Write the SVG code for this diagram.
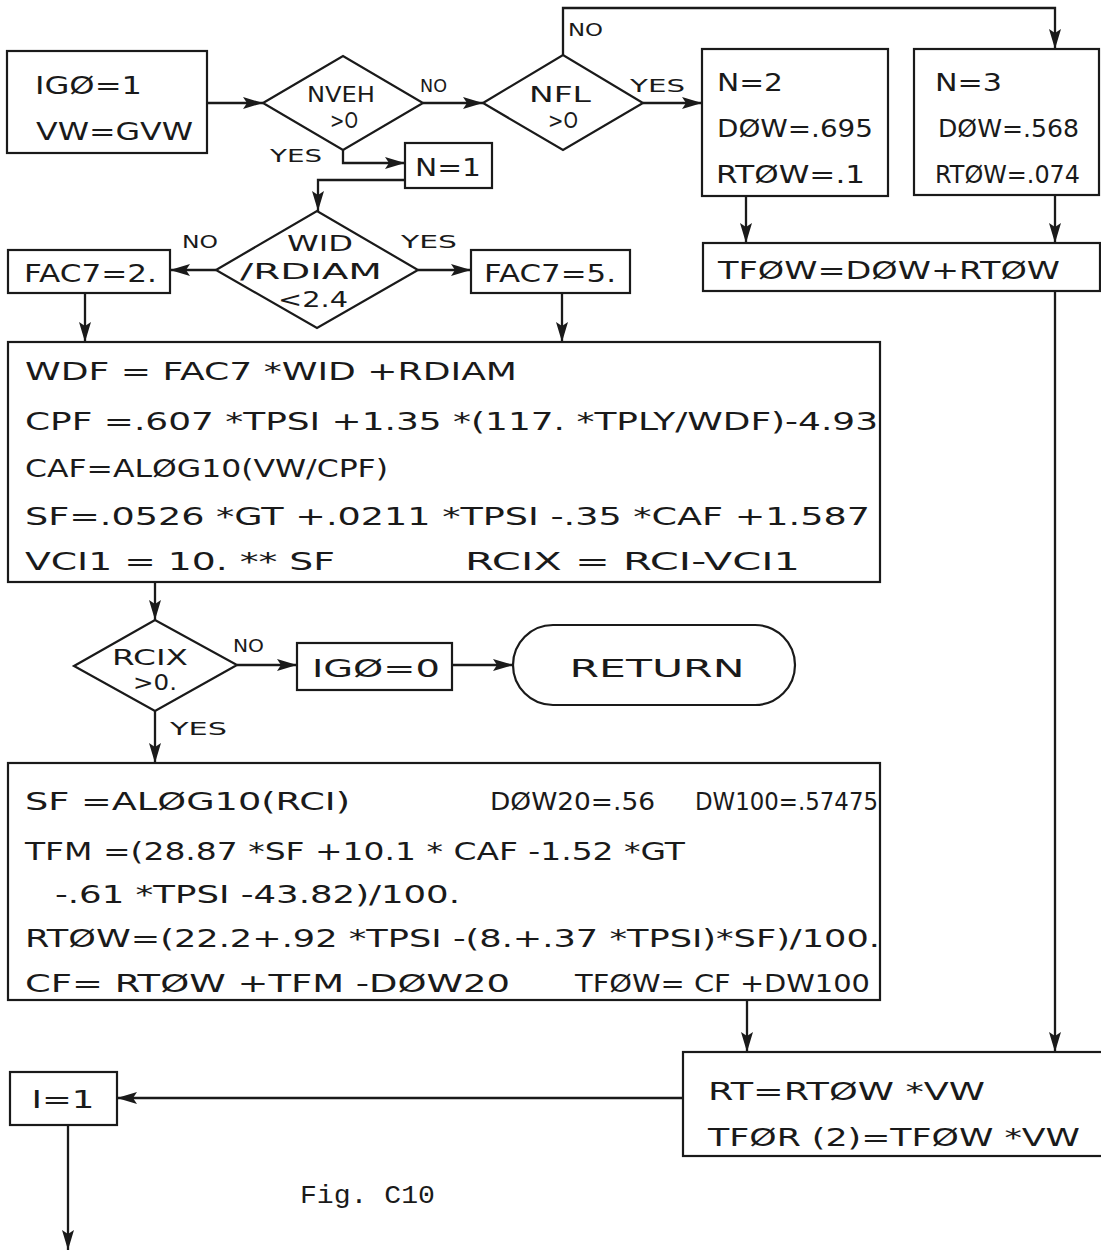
<svg xmlns="http://www.w3.org/2000/svg" width="1101" height="1258" viewBox="0 0 1101 1258">
<style>
.box{fill:none;stroke:#1a1a1a;stroke-width:2.2}
.t{font-family:"DejaVu Sans","Liberation Sans",sans-serif;fill:#1a1a1a;font-size:25px}
.s{font-family:"DejaVu Sans","Liberation Sans",sans-serif;fill:#1a1a1a;font-size:21px}
.l{font-family:"DejaVu Sans","Liberation Sans",sans-serif;fill:#1a1a1a;font-size:18px}
.m{text-anchor:middle}
.c{fill:none;stroke:#1a1a1a;stroke-width:2.3}
</style>
<defs>
<marker id="ah" markerUnits="userSpaceOnUse" markerWidth="22" markerHeight="14" refX="20" refY="6" orient="auto">
<path d="M0,0 L20,6 L0,12 L4,6 z" fill="#1a1a1a"/>
</marker>
</defs>
<rect width="1101" height="1258" fill="#fff"/>

<g id="connectors">
<path class="c" d="M207,103 H263" marker-end="url(#ah)"/>
<path class="c" d="M423,103 H483" marker-end="url(#ah)"/>
<path class="c" d="M343,150 V163 H405" marker-end="url(#ah)"/>
<path class="c" d="M405,180 H318 V211" marker-end="url(#ah)"/>
<path class="c" d="M643,103 H702" marker-end="url(#ah)"/>
<path class="c" d="M563,55 V8 H1055 V49" marker-end="url(#ah)"/>
<path class="c" d="M746,196 V243" marker-end="url(#ah)"/>
<path class="c" d="M1055,195 V243" marker-end="url(#ah)"/>
<path class="c" d="M1055,291 V1052" marker-end="url(#ah)"/>
<path class="c" d="M216,270 H170" marker-end="url(#ah)"/>
<path class="c" d="M418,270 H471" marker-end="url(#ah)"/>
<path class="c" d="M85,293 V342" marker-end="url(#ah)"/>
<path class="c" d="M562,293 V342" marker-end="url(#ah)"/>
<path class="c" d="M155,582 V620" marker-end="url(#ah)"/>
<path class="c" d="M237,665 H297" marker-end="url(#ah)"/>
<path class="c" d="M452,665 H513" marker-end="url(#ah)"/>
<path class="c" d="M155,711 V763" marker-end="url(#ah)"/>
<path class="c" d="M747,1000 V1052" marker-end="url(#ah)"/>
<path class="c" d="M683,1098 H117" marker-end="url(#ah)"/>
<path class="c" d="M68,1125 V1250" marker-end="url(#ah)"/>
<text class="l" x="420" y="92" textLength="27" lengthAdjust="spacingAndGlyphs">NO</text>
<text class="l" x="270" y="162" textLength="52" lengthAdjust="spacingAndGlyphs">YES</text>
<text class="l" x="568" y="36" textLength="35" lengthAdjust="spacingAndGlyphs">NO</text>
<text class="l" x="630" y="92" textLength="55" lengthAdjust="spacingAndGlyphs">YES</text>
<text class="l" x="182" y="248" textLength="36" lengthAdjust="spacingAndGlyphs">NO</text>
<text class="l" x="401" y="248" textLength="56" lengthAdjust="spacingAndGlyphs">YES</text>
<text class="l" x="233" y="652" textLength="31" lengthAdjust="spacingAndGlyphs">NO</text>
<text class="l" x="170" y="735" textLength="57" lengthAdjust="spacingAndGlyphs">YES</text>
</g>

<g id="n_start">
<rect class="box" x="7" y="51" width="200" height="102"/>
<text class="t" x="35" y="94" textLength="107" lengthAdjust="spacingAndGlyphs">IGØ=1</text>
<text class="t" x="36" y="140" textLength="157" lengthAdjust="spacingAndGlyphs">VW=GVW</text>
</g>

<g id="n_nveh">
<polygon class="box" points="263,103 343,56 423,103 343,150"/>
<text class="s m" x="341" y="102" textLength="68" lengthAdjust="spacingAndGlyphs">NVEH</text>
<text class="s m" x="344" y="128" textLength="28" lengthAdjust="spacingAndGlyphs">&gt;O</text>
</g>

<g id="n_n1">
<rect class="box" x="405" y="143" width="87" height="45"/>
<text class="t m" x="448" y="176" textLength="66" lengthAdjust="spacingAndGlyphs">N=1</text>
</g>

<g id="n_nfl">
<polygon class="box" points="483,103 563,55 643,103 563,150"/>
<text class="s m" x="560" y="102" textLength="62" lengthAdjust="spacingAndGlyphs">NFL</text>
<text class="s m" x="563" y="128" textLength="30" lengthAdjust="spacingAndGlyphs">&gt;O</text>
</g>

<g id="n_n2">
<rect class="box" x="702" y="49" width="186" height="147"/>
<text class="t" x="717" y="91" textLength="66" lengthAdjust="spacingAndGlyphs">N=2</text>
<text class="t" x="717" y="137" textLength="156" lengthAdjust="spacingAndGlyphs">DØW=.695</text>
<text class="t" x="716" y="183" textLength="149" lengthAdjust="spacingAndGlyphs">RTØW=.1</text>
</g>

<g id="n_n3">
<rect class="box" x="914" y="49" width="185" height="146"/>
<text class="t" x="935" y="91" textLength="67" lengthAdjust="spacingAndGlyphs">N=3</text>
<text class="t" x="938" y="137" textLength="141" lengthAdjust="spacingAndGlyphs">DØW=.568</text>
<text class="t" x="935" y="183" textLength="145" lengthAdjust="spacingAndGlyphs">RTØW=.074</text>
</g>

<g id="n_tfow">
<rect class="box" x="703" y="243" width="397" height="48"/>
<text class="t" x="718" y="279" textLength="342" lengthAdjust="spacingAndGlyphs">TFØW=DØW+RTØW</text>
</g>

<g id="n_wid">
<polygon class="box" points="216,270 317,211 418,270 317,328"/>
<text class="s m" x="320" y="251" textLength="66" lengthAdjust="spacingAndGlyphs">WID</text>
<text class="s m" x="311" y="279" textLength="142" lengthAdjust="spacingAndGlyphs">/RDIAM</text>
<text class="s m" x="313" y="307" textLength="70" lengthAdjust="spacingAndGlyphs">&lt;2.4</text>
</g>

<g id="n_fac2">
<rect class="box" x="8" y="250" width="162" height="43"/>
<text class="t" x="24" y="282" textLength="133" lengthAdjust="spacingAndGlyphs">FAC7=2.</text>
</g>

<g id="n_fac5">
<rect class="box" x="471" y="250" width="159" height="43"/>
<text class="t" x="484" y="282" textLength="132" lengthAdjust="spacingAndGlyphs">FAC7=5.</text>
</g>

<g id="n_calc1">
<rect class="box" x="8" y="342" width="872" height="240"/>
<text class="t" x="25" y="380" textLength="492" lengthAdjust="spacingAndGlyphs">WDF = FAC7 *WID +RDIAM</text>
<text class="t" x="25" y="430" textLength="853" lengthAdjust="spacingAndGlyphs">CPF =.607 *TPSI +1.35 *(117. *TPLY/WDF)-4.93</text>
<text class="t" x="25" y="477" textLength="363" lengthAdjust="spacingAndGlyphs">CAF=ALØG10(VW/CPF)</text>
<text class="t" x="25" y="525" textLength="845" lengthAdjust="spacingAndGlyphs">SF=.0526 *GT +.0211 *TPSI -.35 *CAF +1.587</text>
<text class="t" x="25" y="570" textLength="310" lengthAdjust="spacingAndGlyphs">VCI1 = 10. ** SF</text>
<text class="t" x="465" y="570" textLength="335" lengthAdjust="spacingAndGlyphs">RCIX = RCI-VCI1</text>
</g>

<g id="n_rcix">
<polygon class="box" points="74,666 155,620 237,665 155,711"/>
<text class="s m" x="150" y="665" textLength="76" lengthAdjust="spacingAndGlyphs">RCIX</text>
<text class="s m" x="155" y="690" textLength="44" lengthAdjust="spacingAndGlyphs">&gt;0.</text>
</g>

<g id="n_igo0">
<rect class="box" x="297" y="643" width="155" height="47"/>
<text class="t" x="312" y="677" textLength="128" lengthAdjust="spacingAndGlyphs">IGØ=0</text>
</g>

<g id="n_return">
<rect class="box" x="513" y="625" width="282" height="80" rx="40" ry="40"/>
<text class="t m" x="657" y="677" textLength="175" lengthAdjust="spacingAndGlyphs">RETURN</text>
</g>

<g id="n_calc2">
<rect class="box" x="8" y="763" width="872" height="237"/>
<text class="t" x="25" y="810" textLength="325" lengthAdjust="spacingAndGlyphs">SF =ALØG10(RCI)</text>
<text class="t" x="490" y="810" textLength="165" lengthAdjust="spacingAndGlyphs">DØW20=.56</text>
<text class="t" x="695" y="810" textLength="183" lengthAdjust="spacingAndGlyphs">DW100=.57475</text>
<text class="t" x="25" y="860" textLength="660" lengthAdjust="spacingAndGlyphs">TFM =(28.87 *SF +10.1 * CAF -1.52 *GT</text>
<text class="t" x="55" y="903" textLength="405" lengthAdjust="spacingAndGlyphs">-.61 *TPSI -43.82)/100.</text>
<text class="t" x="25" y="947" textLength="855" lengthAdjust="spacingAndGlyphs">RTØW=(22.2+.92 *TPSI -(8.+.37 *TPSI)*SF)/100.</text>
<text class="t" x="25" y="992" textLength="485" lengthAdjust="spacingAndGlyphs">CF= RTØW +TFM -DØW20</text>
<text class="t" x="575" y="992" textLength="295" lengthAdjust="spacingAndGlyphs">TFØW= CF +DW100</text>
</g>

<g id="n_rt">
<rect class="box" x="683" y="1052" width="430" height="104"/>
<text class="t" x="708" y="1100" textLength="277" lengthAdjust="spacingAndGlyphs">RT=RTØW *VW</text>
<text class="t" x="708" y="1146" textLength="372" lengthAdjust="spacingAndGlyphs">TFØR (2)=TFØW *VW</text>
</g>

<g id="n_i1">
<rect class="box" x="10" y="1072" width="107" height="53"/>
<text class="t m" x="63" y="1108" textLength="63" lengthAdjust="spacingAndGlyphs">I=1</text>
</g>

<text x="300" y="1203" font-family="'Liberation Mono',monospace" font-size="25" fill="#1a1a1a" textLength="135" lengthAdjust="spacingAndGlyphs">Fig. C10</text>
</svg>
